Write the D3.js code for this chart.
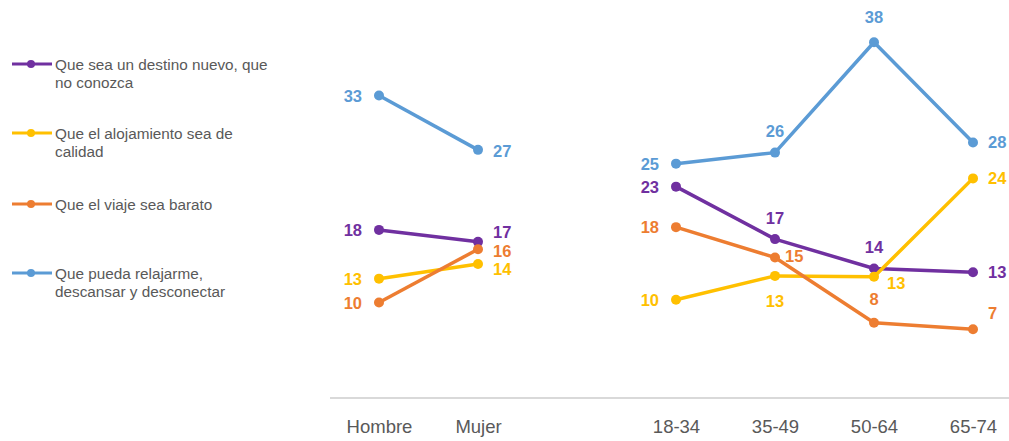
<!DOCTYPE html>
<html>
<head>
<meta charset="utf-8">
<script src="https://cdn.jsdelivr.net/npm/d3@7"></script>
<style>
  body { margin: 0; background: #fff; }
  svg { display: block; font-family: "Liberation Sans", Arial, sans-serif; }
</style>
</head>
<body>
<svg id="chart" width="1009" height="441"></svg>
<script>
// categories: two groups (sex and age)
const sexCats = ["Hombre", "Mujer"];
const ageCats = ["18-34", "35-49", "50-64", "65-74"];
const categories = sexCats.concat(ageCats);

// values (labels show the rounded figure)
const destinoNuevo = [18.0, 16.7, 22.7, 17.0, 13.8, 13.4];
const alojamiento  = [12.7, 14.3, 10.4, 13.0, 12.9, 23.6];
const viajeBarato  = [10.1, 15.9, 18.3, 15.0, 7.9, 7.2];
const relajarme    = [32.6, 26.7, 25.2, 26.4, 38.4, 27.5];

const seriesNames = [
    ["Que sea un destino nuevo, que", "no conozca"],
    ["Que el alojamiento sea de", "calidad"],
    ["Que el viaje sea barato"],
    ["Que pueda relajarme,", "descansar y desconectar"]
];
const seriesValues = [destinoNuevo, alojamiento, viajeBarato, relajarme];
const colors = ["#7030a0", "#ffc000", "#ed7d31", "#5b9bd5"];

// where each value label sits relative to its point: [dx, dy, anchor]
const labelPlace = [
    [[-17, 0, "end"], [15, -10, "start"], [-17, 0, "end"], [0, -21, "middle"], [0, -21, "middle"], [15, 0, "start"]],
    [[-17, 0, "end"], [15, 5, "start"], [-17, 0, "end"], [0, 25, "middle"], [13, 6, "start"], [15, 0, "start"]],
    [[-17, 0, "end"], [15, 2, "start"], [-17, 0, "end"], [10, -1, "start"], [0, -24, "middle"], [15, -16, "start"]],
    [[-17, 0, "end"], [15, 1, "start"], [-17, 0, "end"], [0, -22, "middle"], [0, -25, "middle"], [15, 0, "start"]]
];

const svg = d3.select("#chart");

const x = d3.scalePoint()
    .domain(["Hombre", "Mujer", "gap", "18-34", "35-49", "50-64", "65-74"])
    .range([379, 973]);

const y = d3.scaleLinear()
    .domain([0, 40])
    .range([395.5, 27.5]);

// baseline
svg.append("line")
    .attr("x1", 330).attr("x2", 1009)
    .attr("y1", 398).attr("y2", 398)
    .attr("stroke", "#d9d9d9")
    .attr("stroke-width", 2);

// category labels
const xAxis = d3.axisBottom(x).tickSize(0).tickFormat(d => d === "gap" ? "" : d);
const axisG = svg.append("g")
    .attr("transform", "translate(0,417)")
    .call(xAxis);
axisG.select(".domain").remove();
axisG.selectAll("text")
    .attr("font-size", 18.5)
    .attr("font-family", "Liberation Sans, Arial, sans-serif")
    .attr("fill", "#595959");

const line = d3.line()
    .x(d => x(d.cat))
    .y(d => y(d.v));

seriesValues.forEach(function (vals, s) {
    const pts = categories.map((c, i) => ({ cat: c, v: vals[i], i: i }));
    const g = svg.append("g");
    [pts.slice(0, 2), pts.slice(2)].forEach(function (seg) {
        g.append("path")
            .attr("d", line(seg))
            .attr("fill", "none")
            .attr("stroke", colors[s])
            .attr("stroke-width", 3.5)
            .attr("stroke-linejoin", "round");
    });
    g.selectAll("circle")
        .data(pts)
        .enter()
        .append("circle")
        .attr("cx", d => x(d.cat))
        .attr("cy", d => y(d.v))
        .attr("r", 5)
        .attr("fill", colors[s]);
    g.selectAll("text")
        .data(pts)
        .enter()
        .append("text")
        .attr("x", d => x(d.cat) + labelPlace[s][d.i][0])
        .attr("y", d => y(d.v) + labelPlace[s][d.i][1])
        .attr("dy", "0.36em")
        .attr("text-anchor", d => labelPlace[s][d.i][2])
        .attr("font-size", 16.5)
        .attr("font-weight", "bold")
        .attr("fill", colors[s])
        .text(d => Math.round(d.v));
});

// legend
const legendY = [64, 133, 204, 273];
seriesNames.forEach(function (name, s) {
    const lg = svg.append("g").attr("transform", "translate(0," + legendY[s] + ")");
    lg.append("line")
        .attr("x1", 12).attr("x2", 52)
        .attr("stroke", colors[s])
        .attr("stroke-width", 3);
    lg.append("circle")
        .attr("cx", 31).attr("r", 4)
        .attr("fill", colors[s]);
    name.forEach(function (t, k) {
        lg.append("text")
            .attr("x", 55)
            .attr("y", k * 18)
            .attr("dy", "0.36em")
            .attr("font-size", 15.3)
            .attr("fill", "#595959")
            .text(t);
    });
});
</script>
</body>
</html>
